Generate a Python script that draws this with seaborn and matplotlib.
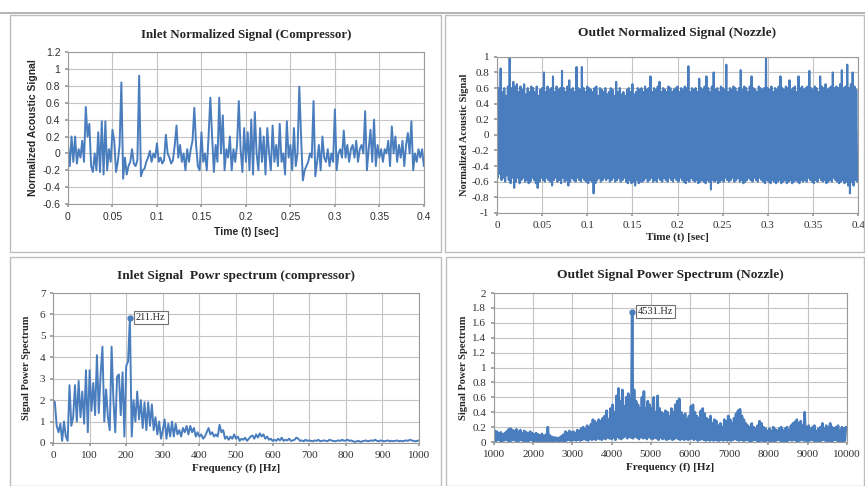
import numpy as np
import pandas as pd
import seaborn as sns
import matplotlib.pyplot as plt
from matplotlib.patches import Rectangle

# inlet normalized signal, one value every 0.002 s
inlet_signal = [
    0.1, -0.15, 0.2, -0.1, 0.2, -0.12, 0.05, -0.05, 0.15, -0.1,
    0.55, 0.2, 0.35, -0.15, -0.22, 0.0, -0.2, 0.25, -0.22, 0.38,
    -0.25, 0.38, -0.2, 0.05, -0.1, 0.28, 0.15, -0.22, -0.1, 0.1,
    0.84, -0.3, -0.05, -0.25, -0.15, -0.1, 0.05, -0.12, -0.15, -0.08,
    0.92, -0.27, -0.2, -0.18, -0.1, -0.05, 0.03, -0.1, 0.0, -0.05,
    0.12, -0.1, -0.05, -0.12, -0.08, 0.22, 0.0, -0.05, -0.12, -0.08,
    0.1, 0.33, -0.05, 0.1, -0.1, 0.0, -0.2, 0.05, -0.1, 0.05,
    0.15, 0.54, 0.1, -0.15, -0.2, 0.25, -0.1, 0.0, -0.2, 0.2,
    0.66, 0.2, -0.22, 0.1, -0.1, 0.66, 0.0, 0.45, -0.2, 0.05,
    -0.05, 0.2, -0.2, 0.05, -0.1, 0.1, 0.62, 0.05, -0.22, 0.3,
    -0.1, 0.25, -0.2, 0.4, -0.25, 0.49, 0.0, -0.2, 0.3, -0.1,
    0.2, -0.25, 0.3, 0.0, -0.2, 0.33, -0.1, 0.1, -0.15, 0.35,
    -0.1, 0.0, -0.25, 0.38, -0.05, 0.1, -0.2, 0.3, -0.15, 0.0,
    0.79, 0.2, -0.32, -0.2, -0.15, -0.1, 0.0, -0.05, 0.62, -0.27,
    -0.1, 0.1, -0.2, 0.2, -0.05, -0.1, 0.05, -0.15, 0.0, -0.1,
    0.52, -0.2, 0.0, 0.05, -0.05, 0.27, -0.05, 0.1, -0.1, 0.05,
    0.1, -0.05, 0.15, -0.1, 0.05, 0.1, 0.0, 0.5, -0.2, 0.05,
    0.28, -0.1, 0.4, -0.15, 0.1, -0.05, 0.05, -0.1, 0.05, 0.0,
    0.15, -0.15, 0.32, 0.0, 0.2, -0.1, 0.1, -0.05, 0.15, -0.15,
    0.1, 0.24, 0.0, 0.38, -0.2, 0.0, -0.1, 0.05, -0.05, 0.05,
    -0.15,
]

# outlet signal: upper and lower swings, one pair every 0.002 s
outlet_highs = [
    0.78, 0.6, 0.85, 0.55, 0.6, 0.5, 0.62, 1.0, 0.6, 0.68,
    0.62, 0.65, 0.55, 0.62, 0.58, 0.65, 0.52, 0.6, 0.55, 0.62,
    0.6, 0.55, 0.62, 0.5, 0.58, 0.6, 0.8, 0.55, 0.62, 0.58,
    0.6, 0.75, 0.55, 0.62, 0.58, 0.6, 0.82, 0.6, 0.55, 0.62,
    0.7, 0.58, 0.6, 0.55, 0.87, 0.6, 0.58, 0.87, 0.6, 0.55,
    0.62, 0.6, 0.58, 0.55, 0.6, 0.62, 0.5, 0.6, 0.58, 0.55,
    0.6, 0.52, 0.55, 0.6, 0.58, 0.5, 0.68, 0.55, 0.6, 0.52,
    0.55, 0.5, 0.58, 0.6, 0.55, 0.65, 0.52, 0.55, 0.6, 0.58,
    0.6, 0.55, 0.62, 0.58, 0.6, 0.75, 0.55, 0.6, 0.58, 0.62,
    0.68, 0.55, 0.6, 0.58, 0.55, 0.62, 0.6, 0.55, 0.58, 0.6,
    0.62, 0.55, 0.6, 0.58, 0.62, 0.6, 0.88, 0.55, 0.6, 0.58,
    0.6, 0.55, 0.72, 0.6, 0.58, 0.62, 0.75, 0.6, 0.55, 0.62,
    0.8, 0.58, 0.6, 0.55, 0.62, 0.6, 0.58, 0.9, 0.55, 0.6,
    0.58, 0.62, 0.6, 0.55, 0.6, 0.83, 0.58, 0.62, 0.6, 0.55,
    0.62, 0.75, 0.6, 0.58, 0.55, 0.62, 0.6, 0.58, 0.6, 1.0,
    0.6, 0.58, 0.62, 0.55, 0.6, 0.58, 0.62, 0.75, 0.6, 0.58,
    0.62, 0.6, 0.7, 0.58, 0.6, 0.62, 0.55, 0.75, 0.6, 0.62,
    0.58, 0.6, 0.62, 0.82, 0.6, 0.58, 0.62, 0.6, 0.55, 0.75,
    0.62, 0.6, 0.65, 0.58, 0.6, 0.62, 0.8, 0.6, 0.62, 0.6,
    0.65, 0.83, 0.6, 0.62, 0.9, 0.6, 0.65, 0.8, 0.62, 0.58,
]
outlet_lows = [
    -0.55, -0.5, -0.58, -0.55, -0.6, -0.52, -0.58, -0.62, -0.55, -0.68,
    -0.6, -0.55, -0.62, -0.58, -0.55, -0.6, -0.58, -0.62, -0.6, -0.55,
    -0.58, -0.62, -0.68, -0.6, -0.55, -0.58, -0.6, -0.55, -0.58, -0.6,
    -0.65, -0.58, -0.55, -0.6, -0.58, -0.62, -0.55, -0.6, -0.58, -0.65,
    -0.6, -0.55, -0.58, -0.6, -0.55, -0.58, -0.6, -0.55, -0.58, -0.6,
    -0.62, -0.58, -0.6, -0.75, -0.62, -0.58, -0.55, -0.6, -0.58, -0.55,
    -0.58, -0.55, -0.6, -0.58, -0.55, -0.6, -0.58, -0.55, -0.6, -0.58,
    -0.55, -0.6, -0.62, -0.58, -0.62, -0.6, -0.65, -0.58, -0.62, -0.6,
    -0.6, -0.58, -0.55, -0.6, -0.58, -0.55, -0.6, -0.58, -0.6, -0.55,
    -0.58, -0.6, -0.55, -0.58, -0.6, -0.55, -0.58, -0.6, -0.55, -0.58,
    -0.6, -0.55, -0.58, -0.6, -0.62, -0.58, -0.6, -0.55, -0.58, -0.6,
    -0.58, -0.62, -0.6, -0.58, -0.6, -0.62, -0.58, -0.6, -0.7, -0.58,
    -0.6, -0.58, -0.62, -0.6, -0.58, -0.6, -0.55, -0.58, -0.6, -0.58,
    -0.55, -0.6, -0.58, -0.55, -0.6, -0.58, -0.62, -0.6, -0.58, -0.55,
    -0.58, -0.6, -0.55, -0.58, -0.6, -0.55, -0.58, -0.6, -0.62, -0.58,
    -0.6, -0.62, -0.58, -0.6, -0.62, -0.6, -0.58, -0.62, -0.6, -0.58,
    -0.62, -0.6, -0.58, -0.62, -0.6, -0.58, -0.6, -0.62, -0.58, -0.6,
    -0.58, -0.6, -0.55, -0.58, -0.6, -0.62, -0.58, -0.6, -0.55, -0.58,
    -0.6, -0.58, -0.62, -0.6, -0.58, -0.6, -0.55, -0.58, -0.6, -0.62,
    -0.6, -0.58, -0.62, -0.6, -0.65, -0.75, -0.6, -0.65, -0.58, -0.6,
]

# inlet power spectrum, one value every 5 Hz
inlet_power = [
    2.0, 1.9, 0.8, 0.5, 0.9, 0.1, 1.0, 0.3, 0.1, 2.7,
    0.8, 1.2, 2.7, 1.0, 2.9, 1.2, 2.4, 0.9, 3.4, 0.5,
    3.4, 1.5, 2.8, 1.3, 4.1, 1.4, 3.2, 4.5, 1.0, 2.5,
    1.2, 0.6, 4.5, 2.0, 0.5, 3.1, 3.2, 1.3, 3.3, 0.3,
    3.6, 3.8, 5.85, 0.3, 2.0, 1.0, 2.4, 1.1, 2.0, 0.7,
    1.9, 0.6, 1.9, 0.8, 1.8, 0.6, 1.2, 0.4, 1.0, 0.2,
    0.6, 1.1, 0.2, 0.9, 0.3, 1.0, 0.3, 0.9, 0.4, 0.6,
    0.3, 0.7, 0.5, 0.8, 0.4, 0.8, 0.5, 0.7, 0.3, 0.5,
    0.3, 0.4, 0.2, 0.3, 0.5, 0.7, 0.4, 0.5, 0.3, 0.4,
    0.3, 0.85, 0.5, 0.6, 0.2, 0.3, 0.15, 0.3, 0.2, 0.4,
    0.2, 0.3, 0.1, 0.2, 0.15, 0.25, 0.1, 0.2, 0.3, 0.35,
    0.2, 0.4, 0.25, 0.45, 0.3, 0.4, 0.2, 0.3, 0.15, 0.2,
    0.1, 0.15, 0.1, 0.2, 0.12, 0.25, 0.1, 0.15, 0.12, 0.2,
    0.1, 0.12, 0.15, 0.25, 0.2, 0.1, 0.12, 0.08, 0.15, 0.1,
    0.12, 0.1, 0.08, 0.12, 0.1, 0.15, 0.08, 0.1, 0.12, 0.1,
    0.08, 0.15, 0.12, 0.1, 0.08, 0.1, 0.12, 0.1, 0.15, 0.1,
    0.12, 0.15, 0.1, 0.12, 0.08, 0.05, 0.08, 0.1, 0.05, 0.08,
    0.1, 0.12, 0.08, 0.1, 0.12, 0.1, 0.15, 0.1, 0.08, 0.12,
    0.1, 0.08, 0.1, 0.12, 0.08, 0.1, 0.08, 0.1, 0.12, 0.08,
    0.1, 0.08, 0.1, 0.12, 0.1, 0.15, 0.12, 0.1, 0.08, 0.1,
    0.12,
]
inlet_peak = (211, 5.85, "211.Hz")

# outlet power spectrum: swings every 50 Hz from 1000 Hz (low, then high)
outlet_spec_highs = [
    0.15, 0.14, 0.12, 0.13, 0.1, 0.12, 0.14, 0.17, 0.18, 0.16,
    0.15, 0.17, 0.14, 0.16, 0.12, 0.15, 0.13, 0.12, 0.14, 0.12,
    0.1, 0.12, 0.1, 0.09, 0.11, 0.08, 0.1, 0.2, 0.09, 0.07,
    0.06, 0.06, 0.05, 0.06, 0.08, 0.1, 0.14, 0.12, 0.15, 0.13,
    0.14, 0.12, 0.16, 0.15, 0.18, 0.2, 0.17, 0.22, 0.2, 0.24,
    0.3, 0.28, 0.25, 0.3, 0.28, 0.32, 0.35, 0.42, 0.3, 0.45,
    0.5, 0.4, 0.62, 0.72, 0.55, 0.7, 0.48, 0.6, 0.65, 0.58,
    1.75, 0.7, 0.55, 0.5, 0.45, 0.6, 0.68, 0.45, 0.55, 0.5,
    0.45, 0.6, 0.4, 0.62, 0.45, 0.4, 0.38, 0.42, 0.4, 0.35,
    0.45, 0.4, 0.5, 0.55, 0.58, 0.4, 0.35, 0.38, 0.3, 0.35,
    0.48, 0.5, 0.4, 0.35, 0.32, 0.42, 0.45, 0.38, 0.32, 0.3,
    0.35, 0.25, 0.3, 0.28, 0.22, 0.25, 0.2, 0.3, 0.28, 0.35,
    0.3, 0.25, 0.32, 0.38, 0.42, 0.44, 0.35, 0.3, 0.25, 0.22,
    0.2, 0.25, 0.2, 0.18, 0.22, 0.28, 0.25, 0.2, 0.18, 0.15,
    0.18, 0.15, 0.2, 0.17, 0.15, 0.18, 0.2, 0.15, 0.18, 0.2,
    0.15, 0.22, 0.25, 0.27, 0.3, 0.25, 0.28, 0.22, 0.4, 0.2,
    0.22, 0.18, 0.2, 0.22, 0.15, 0.18, 0.2, 0.25, 0.18, 0.22,
    0.2, 0.25, 0.2, 0.18, 0.2, 0.22, 0.15, 0.2, 0.18, 0.2,
]
outlet_spec_lows = [
    0.02, 0.01, 0.03, 0.02, 0.01, 0.02, 0.03, 0.02, 0.01, 0.02,
    0.03, 0.02, 0.01, 0.02, 0.03, 0.01, 0.02, 0.01, 0.02, 0.03,
    0.01, 0.02, 0.01, 0.02, 0.01, 0.01, 0.02, 0.01, 0.01, 0.02,
    0.01, 0.01, 0.02, 0.01, 0.01, 0.02, 0.01, 0.02, 0.03, 0.02,
    0.02, 0.03, 0.02, 0.03, 0.02, 0.03, 0.04, 0.03, 0.02, 0.04,
    0.03, 0.04, 0.03, 0.05, 0.04, 0.03, 0.05, 0.04, 0.06, 0.05,
    0.04, 0.06, 0.03, 0.07, 0.05, 0.04, 0.06, 0.08, 0.05, 0.07,
    0.06, 0.05, 0.08, 0.06, 0.04, 0.07, 0.05, 0.06, 0.04, 0.07,
    0.05, 0.04, 0.06, 0.05, 0.03, 0.06, 0.04, 0.05, 0.03, 0.04,
    0.05, 0.03, 0.04, 0.06, 0.04, 0.03, 0.05, 0.03, 0.04, 0.03,
    0.04, 0.05, 0.03, 0.04, 0.02, 0.03, 0.04, 0.03, 0.02, 0.03,
    0.02, 0.03, 0.02, 0.03, 0.02, 0.02, 0.03, 0.02, 0.03, 0.02,
    0.03, 0.02, 0.03, 0.04, 0.03, 0.02, 0.03, 0.02, 0.02, 0.03,
    0.02, 0.01, 0.02, 0.03, 0.02, 0.01, 0.02, 0.02, 0.01, 0.02,
    0.02, 0.01, 0.02, 0.01, 0.02, 0.03, 0.02, 0.01, 0.02, 0.01,
    0.02, 0.03, 0.02, 0.03, 0.02, 0.01, 0.02, 0.03, 0.02, 0.02,
    0.01, 0.02, 0.03, 0.02, 0.01, 0.02, 0.01, 0.02, 0.03, 0.02,
    0.01, 0.02, 0.01, 0.02, 0.03, 0.02, 0.01, 0.02, 0.01, 0.02,
]
outlet_peak = (4531, 1.75, "4531.Hz")


def interleave(first, second):
    out = np.empty(len(first) + len(second))
    out[0::2] = first
    out[1::2] = second
    return out


sns.set_theme(style="whitegrid")
plt.rcParams["font.family"] = ["Liberation Serif", "DejaVu Serif"]

LINE = "#4a7dbd"
GRID = "#c4c4c4"
SERIF = "Liberation Serif"
SANS = "Liberation Sans"

fig = plt.figure(figsize=(8.65, 4.86), dpi=100)
fig.patch.set_facecolor("white")

# excel style panel frames
W, H = 865, 486
for (x0, y0, x1, y1) in [(10, 15, 441, 252), (445, 15, 864, 252),
                         (10, 257, 441, 486), (446, 257, 864, 486)]:
    fig.patches.append(Rectangle((x0 / W, 1 - y1 / H), (x1 - x0) / W, (y1 - y0) / H,
                                 transform=fig.transFigure, fill=False,
                                 edgecolor="#bdbdbd", linewidth=1.0))
fig.add_artist(plt.Line2D([0, 1], [1 - 13 / H, 1 - 13 / H], color="#a8a8a8", linewidth=1.2))


def num(v):
    v = float(v) + 0.0
    if abs(v) < 1e-9:
        v = 0.0
    return f"{v:g}"


def style(ax, family, ylim, yticks, xlim, xticks, size=8):
    ax.set_xlim(*xlim)
    ax.set_ylim(*ylim)
    ax.set_xticks(xticks)
    ax.set_yticks(yticks)
    ax.set_xticklabels([num(v) for v in xticks], family=family, fontsize=size, color="#303030")
    ax.set_yticklabels([num(v) for v in yticks], family=family, fontsize=size, color="#303030")
    ax.grid(True, color=GRID, linewidth=0.8)
    ax.set_facecolor("white")
    for s in ax.spines.values():
        s.set_color("#9a9a9a")
        s.set_linewidth(0.8)
    ax.tick_params(axis="both", length=2.5, color="#9a9a9a", pad=3, bottom=True, left=True)


# top left: inlet signal
ax1 = fig.add_axes([0.0786, 0.580, 0.4114, 0.313])
t_in = np.arange(len(inlet_signal)) * 0.002
df1 = pd.DataFrame({"t": t_in, "s": inlet_signal})
sns.lineplot(data=df1, x="t", y="s", ax=ax1, color=LINE, linewidth=1.4, estimator=None)
style(ax1, SANS, (-0.6, 1.2), np.arange(-0.6, 1.21, 0.2), (0, 0.4), np.arange(0, 0.41, 0.05), size=7.5)
ax1.set_title("Inlet Normalized Signal (Compressor)", family=SERIF, fontweight="bold",
              fontsize=9.3, pad=10)
ax1.set_xlabel("Time (t) [sec]", family=SANS, fontweight="bold", fontsize=7.5, labelpad=4)
ax1.set_ylabel("Normalized Acoustic Signal", family=SANS, fontweight="bold", fontsize=7.5, labelpad=3)

# top right: outlet signal
ax2 = fig.add_axes([0.5746, 0.562, 0.4174, 0.321])
out_sig = interleave(outlet_highs, outlet_lows)
t_out = np.arange(len(out_sig)) * 0.001
df2 = pd.DataFrame({"t": t_out, "s": out_sig})
sns.lineplot(data=df2, x="t", y="s", ax=ax2, color=LINE, linewidth=1.5, estimator=None)
style(ax2, SERIF, (-1, 1), np.arange(-1, 1.01, 0.2), (0, 0.4), np.arange(0, 0.41, 0.05))
ax2.set_title("Outlet Normalized Signal (Nozzle)", family=SERIF, fontweight="bold",
              fontsize=9.7, pad=15)
ax2.set_xlabel("Time (t) [sec]", family=SERIF, fontweight="bold", fontsize=8, labelpad=2)
ax2.set_ylabel("Normalized Acoustic Signal", family=SERIF, fontweight="bold", fontsize=7.5, labelpad=2)

# bottom left: inlet spectrum
ax3 = fig.add_axes([0.0613, 0.0885, 0.4231, 0.3085])
f_in = np.arange(len(inlet_power)) * 5
df3 = pd.DataFrame({"f": f_in, "p": inlet_power})
sns.lineplot(data=df3, x="f", y="p", ax=ax3, color=LINE, linewidth=1.4, estimator=None)
style(ax3, SERIF, (0, 7), np.arange(0, 8), (0, 1000), np.arange(0, 1001, 100))
ax3.plot([inlet_peak[0]], [inlet_peak[1]], "o", color=LINE, markersize=3.5)
ax3.annotate(inlet_peak[2], (inlet_peak[0], inlet_peak[1]), xytext=(4, 0),
             textcoords="offset points", va="center", ha="left", fontsize=7.5, family=SERIF,
             bbox=dict(boxstyle="square,pad=0.2", fc="white", ec="#707070", lw=0.8))
ax3.set_title("Inlet Signal  Powr spectrum (compressor)", family=SERIF, fontweight="bold",
              fontsize=9.6, pad=10)
ax3.set_xlabel("Frequency (f) [Hz]", family=SERIF, fontweight="bold", fontsize=8, labelpad=3)
ax3.set_ylabel("Signal Power Spectrum", family=SERIF, fontweight="bold", fontsize=7.5, labelpad=6)

# bottom right: outlet spectrum
ax4 = fig.add_axes([0.571, 0.0905, 0.408, 0.3065])
out_spec = interleave(outlet_spec_lows, outlet_spec_highs)
f_out = 1000 + np.arange(len(out_spec)) * 25
df4 = pd.DataFrame({"f": f_out, "p": out_spec})
sns.lineplot(data=df4, x="f", y="p", ax=ax4, color=LINE, linewidth=1.9, estimator=None)
style(ax4, SERIF, (0, 2), np.arange(0, 2.01, 0.2), (1000, 10000), np.arange(1000, 10001, 1000))
ax4.plot([outlet_peak[0]], [outlet_peak[1]], "o", color=LINE, markersize=3.5)
ax4.annotate(outlet_peak[2], (outlet_peak[0], outlet_peak[1]), xytext=(4, 0),
             textcoords="offset points", va="center", ha="left", fontsize=7.5, family=SERIF,
             bbox=dict(boxstyle="square,pad=0.2", fc="white", ec="#707070", lw=0.8))
ax4.set_title("Outlet Signal Power Spectrum (Nozzle)", family=SERIF, fontweight="bold",
              fontsize=9.7, pad=11)
ax4.set_xlabel("Frequency (f) [Hz]", family=SERIF, fontweight="bold", fontsize=8, labelpad=3)
ax4.set_ylabel("Signal Power Spectrum", family=SERIF, fontweight="bold", fontsize=7.5, labelpad=3)

fig.savefig("out.png", dpi=100, facecolor="white")
